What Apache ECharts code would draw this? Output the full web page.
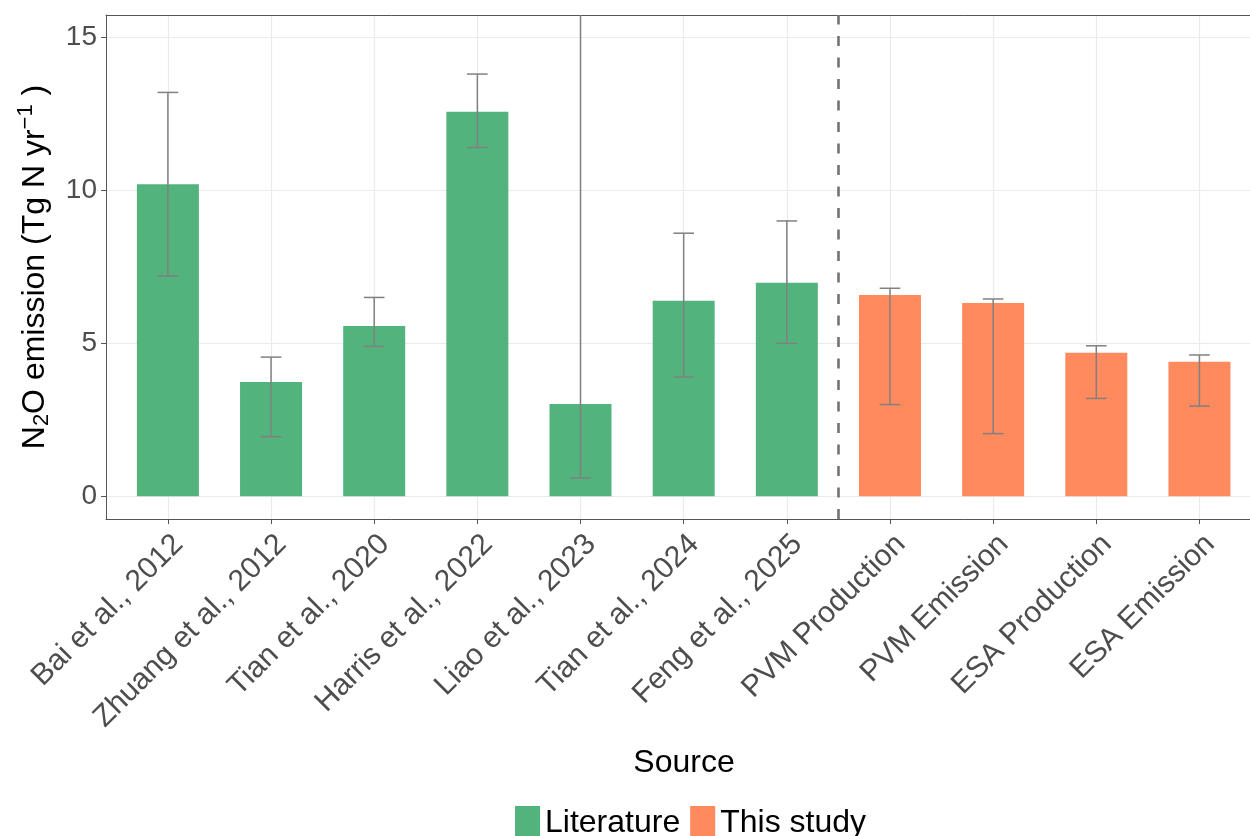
<!DOCTYPE html>
<html>
<head>
<meta charset="utf-8">
<script src="https://cdn.jsdelivr.net/npm/echarts@6/dist/echarts.min.js"></script>
<style>
  html, body { margin: 0; padding: 0; background: #ffffff; overflow: hidden; }
  #chart { width: 1250px; height: 836px; }
</style>
</head>
<body>
<div id="chart"></div>
<script>
// Sources of global N2O emission estimates
const categories = [
  'Bai et al., 2012', 'Zhuang et al., 2012', 'Tian et al., 2020', 'Harris et al., 2022',
  'Liao et al., 2023', 'Tian et al., 2024', 'Feng et al., 2025',
  'PVM Production', 'PVM Emission', 'ESA Production', 'ESA Emission'
];
const groups = [
  'Literature', 'Literature', 'Literature', 'Literature', 'Literature', 'Literature', 'Literature',
  'This study', 'This study', 'This study', 'This study'
];
// Central estimates and uncertainty ranges (Tg N yr-1)
const emissions   = [10.2, 3.74, 5.57, 12.57, 3.02, 6.39, 6.98, 6.58, 6.32, 4.69, 4.40];
const lowerBounds = [7.2, 1.95, 4.9, 11.4, 0.6, 3.9, 5.0, 3.0, 2.05, 3.2, 2.95];
const upperBounds = [13.2, 4.55, 6.5, 13.8, 20.0, 8.6, 9.0, 6.8, 6.45, 4.92, 4.62];
const yTicks = [0, 5, 10, 15];
const groupNames = ['Literature', 'This study'];
const groupColors = { 'Literature': '#53B37D', 'This study': '#FF8A5D' };

// discrete positions 1..n, panel runs from 0.4 and is cut at the right edge
const positions = categories.map((_, i) => i + 1);
const X_MIN = 0.4, X_MAX = 11.49;
const FONT = '"Liberation Sans", Arial, sans-serif';

function barData(group) {
  return positions.filter((_, i) => groups[i] === group).map(p => [p, emissions[p - 1]]);
}

const errorData = positions.map((p, i) => [p, lowerBounds[i], upperBounds[i]]);
const capHalf = 0.1;
const frameLine = { color: '#555555', width: 1 };

const chart = echarts.init(document.getElementById('chart'), null, { renderer: 'canvas' });

chart.setOption({
  animation: false,
  backgroundColor: '#ffffff',
  textStyle: { fontFamily: FONT },
  grid: { left: 106, right: 0, top: 15, bottom: 317, show: false },
  legend: {
    data: groupNames,
    left: 510, top: 801,
    icon: 'rect',
    itemWidth: 25, itemHeight: 34, itemGap: 10,
    textStyle: { fontSize: 32, color: '#000000', fontFamily: FONT, lineHeight: 34 }
  },
  xAxis: [
    {
      type: 'value',
      min: X_MIN, max: X_MAX,
      position: 'bottom',
      name: 'Source',
      nameLocation: 'middle',
      nameGap: 228,
      nameTextStyle: { fontSize: 32, color: '#000000', fontFamily: FONT, padding: [0, 0, 0, 12] },
      axisLine: { show: true, onZero: false, lineStyle: frameLine },
      axisTick: { show: true, customValues: positions, length: 5, lineStyle: frameLine },
      axisLabel: {
        customValues: positions,
        formatter: v => categories[Math.round(v) - 1] || '',
        rotate: 45,
        align: 'right',
        verticalAlign: 'top',
        margin: 10,
        fontSize: 30,
        color: '#4D4D4D',
        fontFamily: FONT
      },
      splitLine: { show: true, lineStyle: { color: '#EBEBEB', width: 1.2 } }
    },
    {
      // top edge of the panel frame
      type: 'value',
      min: X_MIN, max: X_MAX,
      position: 'top',
      axisLine: { show: true, onZero: false, lineStyle: frameLine },
      axisTick: { show: false },
      axisLabel: { show: false },
      splitLine: { show: false }
    }
  ],
  yAxis: {
    type: 'value',
    min: -0.74, max: 15.73,
    name: '{t|N}{s|2}{t|O emission (Tg N yr}{p|\u22121}{t| )}',
    nameLocation: 'middle',
    nameGap: 30,
    nameRotate: 90,
    nameTextStyle: {
      fontFamily: FONT,
      color: '#000000',
      rich: {
        t: { fontSize: 32, color: '#000000', fontFamily: FONT, lineHeight: 40, verticalAlign: 'middle' },
        s: { fontSize: 22, color: '#000000', fontFamily: FONT, lineHeight: 40, verticalAlign: 'bottom', padding: [0, 0, 2, 0] },
        p: { fontSize: 22, color: '#000000', fontFamily: FONT, lineHeight: 40, verticalAlign: 'top' }
      }
    },
    axisLine: { show: true, onZero: false, lineStyle: frameLine },
    axisTick: { show: true, customValues: yTicks, length: 5, lineStyle: frameLine },
    axisLabel: {
      customValues: yTicks,
      margin: 9,
      fontSize: 28,
      color: '#4D4D4D',
      fontFamily: FONT
    },
    splitLine: { show: true, lineStyle: { color: '#EBEBEB', width: 1.2 } }
  },
  series: [
    {
      name: 'Literature',
      type: 'bar',
      data: barData('Literature'),
      barWidth: 62,
      barGap: '-100%',
      itemStyle: { color: groupColors['Literature'] },
      z: 2,
      markLine: {
        silent: true,
        symbol: ['none', 'none'],
        label: { show: false },
        lineStyle: { type: [10, 11.5], color: '#737373', width: 2.6 },
        data: [{ xAxis: 7.5 }]
      }
    },
    {
      name: 'This study',
      type: 'bar',
      data: barData('This study'),
      barWidth: 62,
      barGap: '-100%',
      itemStyle: { color: groupColors['This study'] },
      z: 2
    },
    {
      name: 'range',
      type: 'custom',
      data: errorData,
      clip: true,
      z: 5,
      silent: true,
      renderItem: (params, api) => {
        const x = api.value(0), lo = api.value(1), hi = api.value(2);
        const pLo = api.coord([x, lo]);
        const pHi = api.coord([x, hi]);
        const xl = api.coord([x - capHalf, hi])[0];
        const xr = api.coord([x + capHalf, hi])[0];
        const style = { stroke: '#808080', lineWidth: 1.5 };
        return {
          type: 'group',
          children: [
            { type: 'line', shape: { x1: pLo[0], y1: pLo[1], x2: pHi[0], y2: pHi[1] }, style },
            { type: 'line', shape: { x1: xl, y1: pHi[1], x2: xr, y2: pHi[1] }, style },
            { type: 'line', shape: { x1: xl, y1: pLo[1], x2: xr, y2: pLo[1] }, style }
          ]
        };
      }
    }
  ]
});
</script>
</body>
</html>
